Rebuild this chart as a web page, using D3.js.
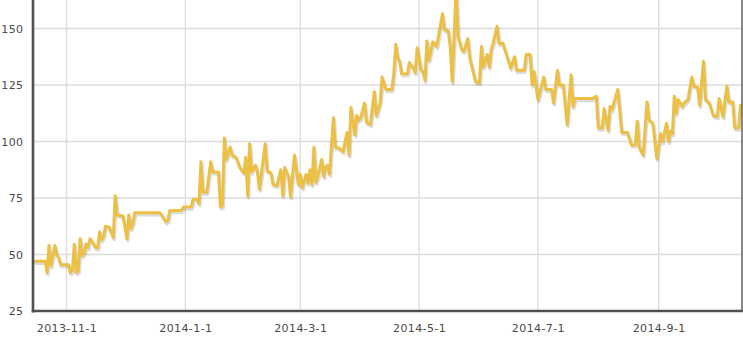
<!DOCTYPE html>
<html>
<head>
<meta charset="utf-8">
<script src="https://cdn.jsdelivr.net/npm/d3@7"></script>
<style>
    body { margin: 0; background: #fff; }
    svg { display: block; }
    text { font-family: "DejaVu Sans", Verdana, sans-serif; font-size: 11px; letter-spacing: 0.4px; fill: #4a4a4a; }
</style>
</head>
<body>
<svg width="743" height="353"></svg>
<script>
// values
var dates = [
    "2013-10-15","2013-10-21","2013-10-22","2013-10-23","2013-10-24","2013-10-26","2013-10-27","2013-10-28","2013-10-29",
    "2013-11-2","2013-11-3","2013-11-4","2013-11-5","2013-11-6","2013-11-7","2013-11-8","2013-11-9","2013-11-10","2013-11-11",
    "2013-11-12","2013-11-13","2013-11-14","2013-11-16","2013-11-17","2013-11-18","2013-11-19","2013-11-20","2013-11-21",
    "2013-11-23","2013-11-25","2013-11-26","2013-11-27","2013-11-30",
    "2013-12-2","2013-12-3","2013-12-4","2013-12-5","2013-12-6","2013-12-19","2013-12-22","2013-12-23","2013-12-24","2013-12-30","2013-12-31",
    "2014-1-4","2014-1-5","2014-1-7","2014-1-8","2014-1-9","2014-1-10","2014-1-12","2014-1-14","2014-1-15","2014-1-18","2014-1-19",
    "2014-1-20","2014-1-21","2014-1-22","2014-1-24","2014-1-25","2014-1-27","2014-1-29","2014-1-31",
    "2014-2-1","2014-2-2","2014-2-3","2014-2-4","2014-2-6","2014-2-7","2014-2-8","2014-2-11","2014-2-12","2014-2-14","2014-2-15",
    "2014-2-17","2014-2-19","2014-2-20","2014-2-21","2014-2-23","2014-2-24","2014-2-26","2014-2-28",
    "2014-3-1","2014-3-2","2014-3-4","2014-3-5","2014-3-6","2014-3-7","2014-3-8","2014-3-9","2014-3-10","2014-3-12","2014-3-13",
    "2014-3-14","2014-3-15","2014-3-16","2014-3-18","2014-3-19","2014-3-21","2014-3-23","2014-3-25","2014-3-26","2014-3-27",
    "2014-3-29","2014-3-30","2014-3-31",
    "2014-4-1","2014-4-3","2014-4-4","2014-4-6","2014-4-8","2014-4-9","2014-4-11","2014-4-12","2014-4-14","2014-4-17","2014-4-18",
    "2014-4-19","2014-4-20","2014-4-21","2014-4-22","2014-4-25","2014-4-26","2014-4-28","2014-4-29","2014-4-30",
    "2014-5-2","2014-5-3","2014-5-4","2014-5-5","2014-5-6","2014-5-8","2014-5-9","2014-5-10","2014-5-13","2014-5-14","2014-5-16",
    "2014-5-17","2014-5-18","2014-5-20","2014-5-21","2014-5-23","2014-5-24","2014-5-26","2014-5-27","2014-5-30",
    "2014-6-1","2014-6-2","2014-6-3","2014-6-5","2014-6-6","2014-6-7","2014-6-8","2014-6-10","2014-6-11","2014-6-13","2014-6-15",
    "2014-6-17","2014-6-19","2014-6-20","2014-6-24","2014-6-25","2014-6-27","2014-6-28","2014-6-29",
    "2014-7-1","2014-7-4","2014-7-5","2014-7-8","2014-7-9","2014-7-11","2014-7-12","2014-7-14","2014-7-16","2014-7-18","2014-7-19",
    "2014-7-20","2014-7-29","2014-7-31",
    "2014-8-1","2014-8-3","2014-8-4","2014-8-6","2014-8-7","2014-8-8","2014-8-11","2014-8-13","2014-8-16","2014-8-18","2014-8-20",
    "2014-8-21","2014-8-22","2014-8-24","2014-8-26","2014-8-27","2014-8-29","2014-8-31",
    "2014-9-2","2014-9-3","2014-9-5","2014-9-6","2014-9-7","2014-9-8","2014-9-9","2014-9-10","2014-9-11","2014-9-13","2014-9-14",
    "2014-9-16","2014-9-18","2014-9-19","2014-9-21","2014-9-22","2014-9-24","2014-9-25","2014-9-27","2014-9-29",
    "2014-10-1","2014-10-2","2014-10-4","2014-10-6","2014-10-7","2014-10-9","2014-10-10","2014-10-12","2014-10-13","2014-10-14"
];
var prices = [
    47,47,42,54,45,54,50,48.5,45.5,
    45.5,42,43,54.5,42,42.5,57,49.5,50.5,54.5,
    53,57,56,53,53,60,56.5,58,62.5,
    62,57.5,76,67.5,67,
    57,67.5,61.5,63.5,68.5,68.5,64.5,65,69.5,69.5,71,
    71,74.5,74.5,72.5,91,77.5,77.5,91,86.5,86.5,71,
    71.5,101.5,92,97.5,94,93,88.5,86,
    93,76,99,86.5,89.5,86.5,79,99,87,86,81,
    80.5,87.5,76,88.5,84.5,75.5,94,81,
    85.5,79.5,85.5,81.5,87.5,81,97.5,82,84.5,92,84.5,
    88.5,89.5,85.5,110.5,97.5,97,95.5,104,94,115,
    103,111.5,109.5,
    110.5,117,108.5,107.5,122,111.5,117,128.5,123,123,130,
    143,137,135.5,130,130,135,132.5,130.5,141.5,
    131.5,131,127,144.5,136,144,143.5,142,156.5,149.5,149,
    142,126.5,168,146.5,140.5,140,145.5,137,126.5,
    126,142,133,138.5,133,140.5,143.5,151,143.5,143.5,138,
    132.5,137.5,131.5,131.5,138.5,138.5,125,131,
    118.5,128.5,123,123,117,131.5,125,125,107.5,129.5,115.5,
    119,119,120,
    106,106,114.5,105,115.5,114,123,104,104,98.5,98.5,
    109,97.5,94,117.5,109.5,108,92.5,
    103.5,100,108,100,104.5,103.5,120,112.5,118.5,115.5,117,
    118.5,128.5,124.5,124,116,135.5,118.5,117,111.5,
    111,119,111,124.5,117.5,117.5,106,106,116,111.5
];
var yTicks = [25, 50, 75, 100, 125, 150];
var xTicks = ["2013-11-1", "2014-1-1", "2014-3-1", "2014-5-1", "2014-7-1", "2014-9-1"];

var parse = d3.timeParse("%Y-%m-%d");
var data = dates.map(function(d, i){ return {date: parse(d), value: prices[i]}; });

// "top" is taken by window.top, so use other names
var plotLeft = 33, plotRight = 742, plotTop = 0, plotBottom = 311;

var x = d3.scaleTime()
    .domain([parse("2013-11-1"), parse("2014-9-1")])
    .range([66.5, 658.7]);
var y = d3.scaleLinear()
    .domain([25, 150])
    .range([plotBottom, 28.5]);

var svg = d3.select("svg");

svg.append("defs").append("clipPath").attr("id", "plot")
    .append("rect")
    .attr("x", plotLeft)
    .attr("y", plotTop)
    .attr("width", plotRight - plotLeft)
    .attr("height", plotBottom - plotTop);

// grid
var grid = svg.append("g");
grid.selectAll("line.h")
    .data(yTicks.slice(1))
    .enter().append("line")
    .attr("x1", plotLeft).attr("x2", plotRight)
    .attr("y1", function(d){ return y(d); })
    .attr("y2", function(d){ return y(d); })
    .attr("stroke", "#dcdcdc")
    .attr("stroke-width", 1.6);
grid.selectAll("line.v")
    .data(xTicks)
    .enter().append("line")
    .attr("x1", function(d){ return x(parse(d)); })
    .attr("x2", function(d){ return x(parse(d)); })
    .attr("y1", plotTop).attr("y2", plotBottom)
    .attr("stroke", "#dedede")
    .attr("stroke-width", 1.4);

// line + soft shadow
var line = d3.line()
    .x(function(d){ return x(d.date); })
    .y(function(d){ return y(d.value); });

var plot = svg.append("g").attr("clip-path", "url(#plot)");
plot.append("path")
    .datum(data)
    .attr("d", line)
    .attr("transform", "translate(1,2)")
    .attr("fill", "none")
    .attr("stroke", "rgba(0,0,0,0.14)")
    .attr("stroke-width", 3.4)
    .attr("stroke-linejoin", "round");
plot.append("path")
    .datum(data)
    .attr("d", line)
    .attr("fill", "none")
    .attr("stroke", "#ecbf45")
    .attr("stroke-width", 3)
    .attr("stroke-linejoin", "round");

// axes
var yAxis = d3.axisLeft(y).tickValues(yTicks).tickSize(0).tickPadding(9.5);
svg.append("g")
    .attr("transform", "translate(" + plotLeft + ",0)")
    .call(yAxis)
    .call(function(g){
        g.select(".domain").remove();
        g.attr("font-size", null).attr("font-family", null);
        g.selectAll("text").attr("fill", null);
    });

var fmt = function(d){ return d.getFullYear() + "-" + (d.getMonth() + 1) + "-" + d.getDate(); };
var xAxis = d3.axisBottom(x).tickValues(xTicks.map(parse)).tickFormat(fmt).tickSize(0).tickPadding(13);
svg.append("g")
    .attr("transform", "translate(0," + plotBottom + ")")
    .call(xAxis)
    .call(function(g){
        g.select(".domain").remove();
        g.attr("font-size", null).attr("font-family", null);
        g.selectAll("text").attr("fill", null);
    });

svg.append("line")
    .attr("x1", plotLeft).attr("x2", plotLeft)
    .attr("y1", plotTop).attr("y2", plotBottom + 1.5)
    .attr("stroke", "#505050").attr("stroke-width", 2.6);
svg.append("line")
    .attr("x1", plotLeft - 1.3).attr("x2", plotRight + 1)
    .attr("y1", plotBottom).attr("y2", plotBottom)
    .attr("stroke", "#505050").attr("stroke-width", 2.6);
svg.append("line")
    .attr("x1", plotRight).attr("x2", plotRight)
    .attr("y1", plotTop).attr("y2", plotBottom)
    .attr("stroke", "#606060").attr("stroke-width", 1.5);
</script>
</body>
</html>
